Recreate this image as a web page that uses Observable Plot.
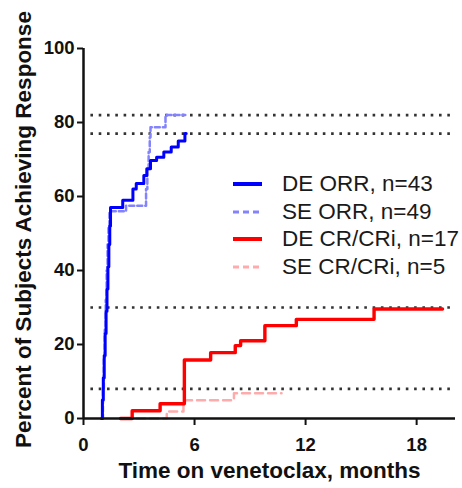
<!DOCTYPE html>
<html><head><meta charset="utf-8">
<script src="https://cdn.jsdelivr.net/npm/d3@7"></script>
<script src="https://cdn.jsdelivr.net/npm/@observablehq/plot@0.6"></script>
<style>
body{margin:0;background:#fff;}
#wrap{position:relative;width:462px;height:488px;overflow:hidden;font-family:"Liberation Sans",Arial,sans-serif;}
#legend{position:absolute;left:233px;top:170px;white-space:nowrap;}
.row{display:flex;align-items:center;height:27.7px;font-size:22.5px;color:#1a1a1a;}
.row svg{margin-right:20px;flex:none;}
</style></head><body><div id="wrap"><div id="legend"></div></div>
<script>
// ---- data ----
const deOrrT = [0.97, 1.02, 1.07, 1.12, 1.17, 1.22, 1.27, 1.32, 1.37, 1.42, 1.46, 2.12, 2.67, 2.85, 3.26, 3.42, 3.62, 3.95, 4.34, 4.74, 5.12, 5.48, 5.55];
const deOrrV = [0, 5, 11, 17, 23, 29, 35, 41, 47, 52, 57, 59, 62, 63.5, 65.7, 67.5, 69.7, 70.6, 72, 73.4, 75, 77, 77];
const seOrrT = [1.0, 1.05, 1.1, 1.15, 1.2, 1.25, 1.3, 1.35, 1.4, 2.3, 3.38, 3.45, 3.52, 3.58, 3.62, 4.43, 5.5];
const seOrrV = [0, 8, 16, 24, 32, 40, 47, 52, 56, 57.5, 62, 67, 72, 76, 78.7, 82, 82];
const deCrT = [2.0, 2.63, 4.14, 5.45, 6.87, 8.2, 8.49, 9.8, 11.5, 15.7, 19.4];
const deCrV = [0, 2.1, 4.0, 15.8, 17.8, 19.7, 21.0, 25.1, 26.8, 29.6, 29.6];
const seCrT = [2.9, 4.5, 5.4, 8.13, 10.7];
const seCrV = [0, 1.9, 4.9, 6.8, 6.8];
const refVals = [82, 77, 30, 8];
const xTicks = [0, 6, 12, 18];
const yTicks = [0, 20, 40, 60, 80, 100];
const xLabel = "Time on venetoclax, months";
const yLabel = "Percent of Subjects Achieving Response";
const seriesNames = ["DE ORR, n=43", "SE ORR, n=49", "DE CR/CRi, n=17", "SE CR/CRi, n=5"];
const seriesColors = ["#0000ff", "#8383ff", "#ff0000", "#ffabab"];
const seriesDash = [null, "5,3", null, "8,5"];
const seriesWidth = [3, 2.5, 3.4, 2.5];

const toRows = (T, V) => T.map((t, i) => ({t, v: V[i]}));
const deOrr = toRows(deOrrT, deOrrV), seOrr = toRows(seOrrT, seOrrV);
const deCr = toRows(deCrT, deCrV), seCr = toRows(seCrT, seCrV);

const lineOpts = (k) => ({x: "t", y: "v", curve: "step-after", stroke: seriesColors[k], strokeWidth: seriesWidth[k], strokeDasharray: seriesDash[k] || undefined});

const plot = Plot.plot({
  width: 462, height: 488,
  marginLeft: 83, marginRight: 7, marginTop: 48, marginBottom: 70,
  x: {domain: [0, 20.1]},
  y: {domain: [0, 100]},
  style: {fontFamily: "'Liberation Sans', Arial, sans-serif", background: "white", color: "#111", overflow: "visible"},
  marks: [
    Plot.ruleY(refVals, {x1: 0.4, x2: 20.1, stroke: "#333", strokeWidth: 2.6, strokeDasharray: "2.6,5.7"}),
    Plot.line(seCr, lineOpts(3)),
    Plot.line(deCr, lineOpts(2)),
    Plot.line(seOrr, lineOpts(1)),
    Plot.line(deOrr, lineOpts(0)),
    Plot.axisY({ticks: yTicks, tickSize: 6, tickPadding: 3, fontSize: 18.5, fontWeight: "bold", strokeWidth: 2, label: null}),
    Plot.axisX({ticks: xTicks, tickSize: 7, tickPadding: 12, fontSize: 18.5, fontWeight: "bold", strokeWidth: 2, label: null}),
    Plot.ruleX([0], {strokeWidth: 2.5}),
    Plot.ruleY([0], {strokeWidth: 2.5}),
    Plot.text([xLabel], {frameAnchor: "bottom", dy: 59, fontSize: 22.5, fontWeight: "bold"}),
    Plot.text([yLabel], {frameAnchor: "left", textAnchor: "middle", dx: -60, dy: -4, rotate: -90, fontSize: 22.5, fontWeight: "bold"})
  ]
});
document.getElementById("wrap").prepend(plot);

const leg = document.getElementById("legend");
seriesNames.forEach((name, k) => {
  const row = document.createElement("div");
  row.className = "row";
  const dash = seriesDash[k] ? ` stroke-dasharray="6,4"` : "";
  row.innerHTML = `<svg width="29" height="8"><line x1="0" x2="29" y1="4" y2="4" stroke="${seriesColors[k]}" stroke-width="${seriesDash[k] ? 3 : 4}"${dash}/></svg><span>${name}</span>`;
  leg.appendChild(row);
});
</script></body></html>
